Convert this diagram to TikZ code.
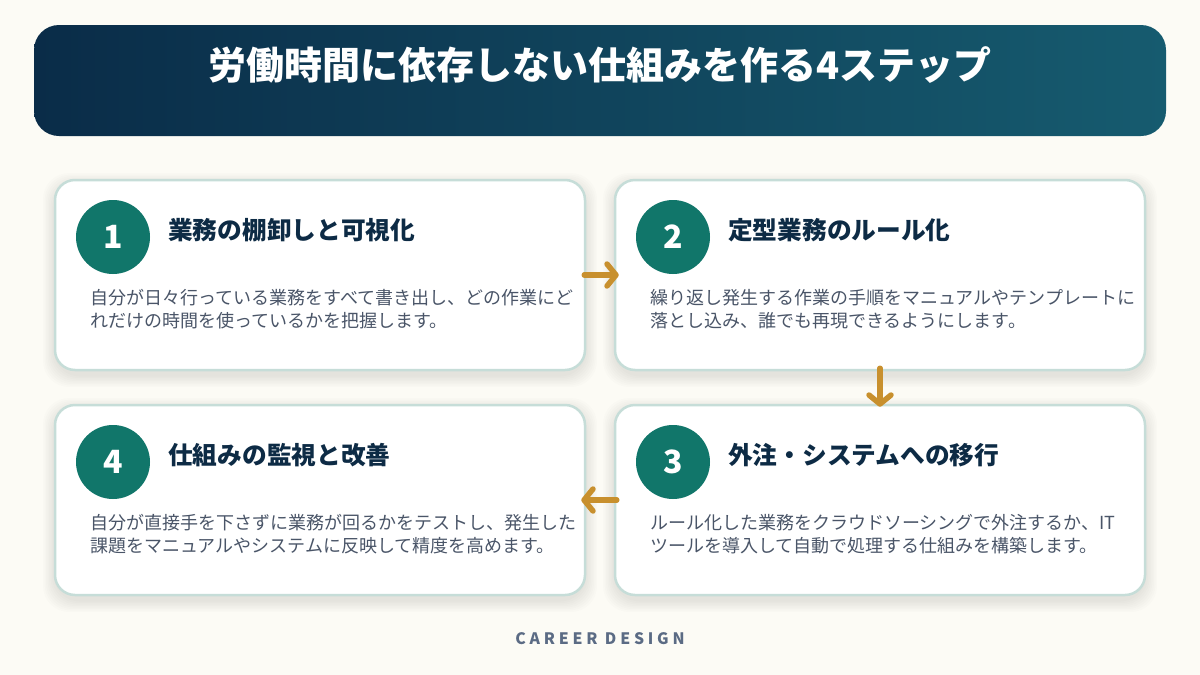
\documentclass[tikz,border=0pt]{standalone}
\usepackage{fontspec}
\setmainfont{Noto Sans CJK JP}
\newfontfamily\footfont[LetterSpace=24]{Noto Sans CJK JP}
\usetikzlibrary{arrows.meta}
\definecolor{bg}{HTML}{FCFBF5}
\definecolor{hdrL}{HTML}{0A2C48}
\definecolor{hdrR}{HTML}{165B6F}
\definecolor{teal}{HTML}{11766A}
\definecolor{cardline}{HTML}{C6DDD8}
\definecolor{ttl}{HTML}{0D2B45}
\definecolor{body}{HTML}{4A5568}
\definecolor{gold}{HTML}{C8902E}
\definecolor{foot}{HTML}{5B6B84}
\tikzset{
  card/.style={draw=cardline, line width=2.5pt, fill=white, rounded corners=20pt,
    minimum width=530pt, minimum height=190pt, inner sep=0pt},
  cardshadow/.style={fill=black, opacity=0.012, rounded corners=26pt,
    minimum width=530pt, minimum height=190pt, inner sep=0pt},
  badge/.style={circle, fill=teal, minimum size=74pt, inner sep=0pt, text=white,
    font=\bfseries\fontsize{32}{34}\selectfont},
  cardtitle/.style={anchor=base west, inner sep=0pt, text=ttl,
    font=\bfseries\fontsize{24.7}{28}\selectfont},
  bodyline/.style={anchor=base west, inner sep=0pt, text=body,
    font=\fontsize{18}{22}\selectfont},
  flow/.style={draw=gold, line width=5.5pt, line cap=round,
    -{Straight Barb[length=9pt,width=22pt,round]}},
}
\begin{document}
\begin{tikzpicture}[x=1pt,y=-1pt]
\useasboundingbox (0,0) rectangle (1200,675);
\fill[bg] (0,0) rectangle (1200,675);
% header
\node[rounded corners=25pt, left color=hdrL, right color=hdrR, minimum width=1132pt,
  minimum height=111pt, inner sep=0pt] (hdr) at (600,80.5) {};
\node[anchor=base, inner sep=0pt, text=white, font=\bfseries\fontsize{38}{42}\selectfont]
  (title) at (600,79.5) {労働時間に依存しない仕組みを作る4ステップ};
% shadows
\foreach \cx/\cy in {320/275,880/275,880/500,320/500}{
  \foreach \i in {1,...,8}{
    \node[cardshadow, minimum width=530pt+3*\i pt, minimum height=190pt+3*\i pt]
      at (\cx,\cy+5) {};
  }
}
% cards
\node[card] (c1) at (320,275) {};
\node[card] (c2) at (880,275) {};
\node[card] (c3) at (880,500) {};
\node[card] (c4) at (320,500) {};
% badges
\node[badge] (n1) at (113,237) {1};
\node[badge] (n2) at (673,237) {2};
\node[badge] (n3) at (673,462) {3};
\node[badge] (n4) at (113,462) {4};
% titles
\node[cardtitle] (t1) at (168,239) {業務の棚卸しと可視化};
\node[cardtitle] (t2) at (728,239) {定型業務のルール化};
\node[cardtitle] (t3) at (728,464) {外注・システムへの移行};
\node[cardtitle] (t4) at (168,464) {仕組みの監視と改善};
% bodies
\node[bodyline] (b1a) at (90,304) {自分が日々行っている業務をすべて書き出し、どの作業にど};
\node[bodyline] (b1b) at (90,327) {れだけの時間を使っているかを把握します。};
\node[bodyline] (b2a) at (650,304) {繰り返し発生する作業の手順をマニュアルやテンプレートに};
\node[bodyline] (b2b) at (650,327) {落とし込み、誰でも再現できるようにします。};
\node[bodyline] (b3a) at (650,529) {ルール化した業務をクラウドソーシングで外注するか、IT};
\node[bodyline] (b3b) at (650,552) {ツールを導入して自動で処理する仕組みを構築します。};
\node[bodyline] (b4a) at (90,529) {自分が直接手を下さずに業務が回るかをテストし、発生した};
\node[bodyline] (b4b) at (90,552) {課題をマニュアルやシステムに反映して精度を高めます。};
% arrows
\coordinate (a1s) at ([xshift=-2pt]c1.east);
\coordinate (a1e) at ([xshift=5pt]c2.west);
\coordinate (a2s) at ([yshift=3pt]c2.south);
\coordinate (a2e) at ([yshift=-3pt]c3.north);
\coordinate (a3s) at ([xshift=3pt]c3.west);
\coordinate (a3e) at ([xshift=-5pt]c4.east);
\draw[flow] (a1s) -- (a1e);
\draw[flow] (a2s) -- (a2e);
\draw[flow] (a3s) -- (a3e);
% footer
\node[anchor=base, inner sep=0pt, text=foot, font=\footfont\bfseries\fontsize{15.8}{18}\selectfont]
  (foot) at (600,644) {CAREER DESIGN};
\end{tikzpicture}
\end{document}
